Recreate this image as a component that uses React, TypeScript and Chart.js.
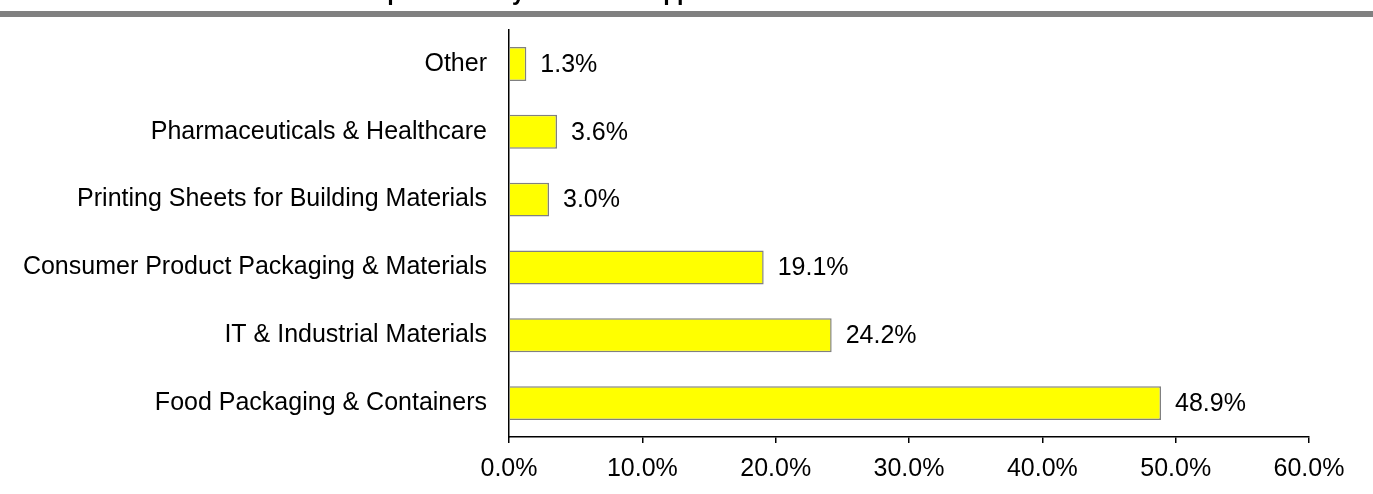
import React, { useEffect, useRef } from "react";
import { Chart, registerables } from "chart.js";

Chart.register(...registerables);

const categories = [
  "Other",
  "Pharmaceuticals & Healthcare",
  "Printing Sheets for Building Materials",
  "Consumer Product Packaging & Materials",
  "IT & Industrial Materials",
  "Food Packaging & Containers",
];
const shares = [1.3, 3.6, 3.0, 19.1, 24.2, 48.9];
const xTickMax = 60;
const xTickStep = 10;
const titleText = "Sales Proportion by Product Application";

const FONT = "'Liberation Sans', Arial, sans-serif";

export default function App() {
  const ref = useRef<HTMLCanvasElement | null>(null);

  useEffect(() => {
    if (!ref.current) return;
    const decor = {
      id: "decor",
      beforeDraw(chart: any) {
        const ctx = chart.ctx;
        ctx.save();
        ctx.fillStyle = "#ffffff";
        ctx.fillRect(0, 0, chart.width, chart.height);
        ctx.fillStyle = "#000";
        ctx.font = "bold 23px 'Liberation Mono', 'Courier New', monospace";
        ctx.textBaseline = "alphabetic";
        ctx.textAlign = "left";
        ctx.fillText(titleText, 263, 0);
        ctx.fillStyle = "#808080";
        ctx.fillRect(0, 11, chart.width, 6);
        ctx.restore();
      },
      afterDatasetsDraw(chart: any) {
        const ctx = chart.ctx;
        const meta = chart.getDatasetMeta(0);
        ctx.save();
        ctx.fillStyle = "#000";
        ctx.font = `25px ${FONT}`;
        ctx.textBaseline = "middle";
        ctx.textAlign = "left";
        meta.data.forEach((bar: any, i: number) => {
          ctx.fillText(shares[i].toFixed(1) + "%", bar.x + 14, bar.y + 1);
        });
        ctx.restore();
      },
    };

    const chart = new Chart(ref.current, {
      type: "bar",
      data: {
        labels: categories,
        datasets: [
          {
            data: shares,
            backgroundColor: "#FFFF00",
            borderColor: "#808080",
            borderWidth: 1.5,
            barPercentage: 0.5,
            categoryPercentage: 1,
          },
        ],
      },
      options: {
        indexAxis: "y",
        responsive: false,
        animation: false,
        layout: { padding: { top: 30, right: 64, bottom: 0, left: 0 } },
        plugins: {
          legend: { display: false },
          tooltip: { enabled: false },
          title: { display: false },
        },
        scales: {
          y: {
            grid: { display: false, drawTicks: false },
            border: { display: true, color: "#000", width: 1.5 },
            ticks: {
              color: "#000",
              font: { family: FONT, size: 25 },
              padding: 22,
            },
            afterFit(scale: any) {
              scale.width = 509;
              scale.paddingTop = 0;
              scale.paddingBottom = 0;
            },
          },
          x: {
            min: 0,
            max: xTickMax,
            grid: {
              display: true,
              drawOnChartArea: false,
              drawTicks: true,
              tickLength: 6,
              color: "#000",
              lineWidth: 1.5,
            },
            border: { display: true, color: "#000", width: 1.5 },
            ticks: {
              stepSize: xTickStep,
              color: "#000",
              font: { family: FONT, size: 25 },
              padding: 11,
              maxRotation: 0,
              callback: (v: any) => Number(v).toFixed(1) + "%",
            },
            afterFit(scale: any) {
              scale.height = 57;
            },
          },
        },
      },
      plugins: [decor],
    });
    return () => chart.destroy();
  }, []);

  return (
    <div style={{ position: "absolute", left: 0, top: 0, width: 1373, height: 494 }}>
      <canvas ref={ref} width={1373} height={494} style={{ display: "block" }} />
    </div>
  );
}
